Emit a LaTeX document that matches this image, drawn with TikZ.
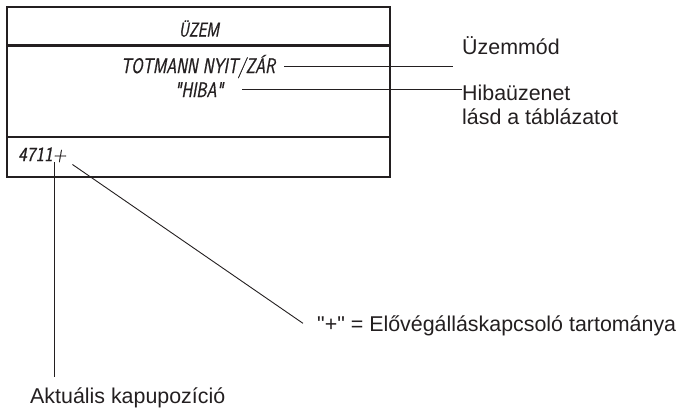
\documentclass[tikz,border=0pt]{standalone}
\usepackage{fontspec}
\usepackage{xcolor}
\usetikzlibrary{positioning}
\newfontfamily\labelfont{Liberation Sans}
\newfontfamily\lcdfont[FakeSlant=0.18,FakeStretch=0.77,FakeBold=0.8]{Latin Modern Sans}
\newfontfamily\lcdnumfont[FakeSlant=0.18,FakeStretch=0.92,FakeBold=0.8]{Latin Modern Sans}
\definecolor{displayink}{HTML}{231F20}
\newcommand{\displaybox}{(7,7) rectangle (390,177)}

\begin{document}
\begin{tikzpicture}[x=1pt, y=-1pt, inner sep=0pt,
  lcd/.style={font=\lcdfont\fontsize{21}{24}\selectfont, text=displayink, anchor=base},
  callout/.style={font=\labelfont\fontsize{21.4}{24}\selectfont, text=displayink, anchor=base west},
  leader/.style={displayink, line width=1.2pt},
  pointer/.style={displayink, line width=0.9pt}]

  \useasboundingbox (0,0) rectangle (677,410);

  % display frame with its three rows
  \draw[displayink, line width=2.8pt] \displaybox;
  \draw[displayink, line width=2.8pt] (7,45.5) -- (390,45.5);
  \draw[displayink, line width=2.8pt] (7,137) -- (390,137);

  \node[lcd, font=\lcdfont\fontsize{20}{23}\selectfont] (title) at (199,36.5) {ÜZEM};
  \node[lcd] (mode) at (198,73) {TOTMANN NYIT/ZÁR};
  \node[lcd] (err) at (199,97) {"HIBA"};
  \node[lcd, font=\lcdnumfont\fontsize{20}{23}\selectfont, anchor=base west] (pos) at (18,161) {4711+};

  % explanations
  \node[callout] (modelbl) at (462,54) {Üzemmód};
  \node[callout] (errlbl) at (462,100) {Hibaüzenet};
  \node[callout, below=24pt of errlbl.base west, anchor=base west] (errlbl2) {lásd a táblázatot};
  \node[callout] (pluslbl) at (317,331) {"+" = Elővégálláskapcsoló tartománya};
  \node[callout] (poslbl) at (30,403) {Aktuális kapupozíció};

  \coordinate (modeend) at ([xshift=-9]modelbl.west);
  \draw[leader] ([xshift=9]mode.east) -- (mode.east -| modeend);
  \draw[leader] ([xshift=19]err.east) -- (err.east -| errlbl.west);
  \draw[pointer, shorten >=10pt] ([xshift=36]pos.south west) -- ([xshift=36]pos.south west |- poslbl.north);
  \draw[pointer] ([xshift=6,yshift=-2]pos.south east) -- ([xshift=-14,yshift=2]pluslbl.west);

\end{tikzpicture}
\end{document}
